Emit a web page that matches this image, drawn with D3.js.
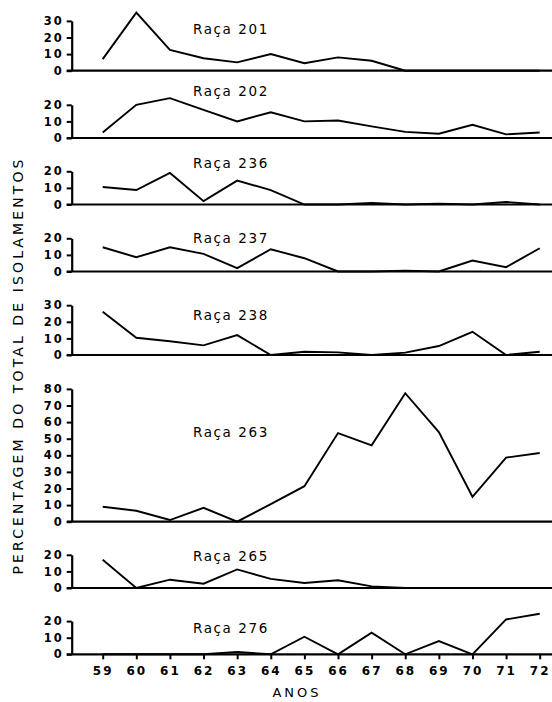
<!DOCTYPE html>
<html>
<head>
<meta charset="utf-8">
<script src="https://cdn.jsdelivr.net/npm/d3@7"></script>
<style>
  body { margin: 0; background: #fff; }
  svg text { font-family: "DejaVu Sans", sans-serif; fill: #000; }
</style>
</head>
<body>
<div id="chart"></div>
<script>
const years = [59, 60, 61, 62, 63, 64, 65, 66, 67, 68, 69, 70, 71, 72];

const raca201 = [7, 35, 12.5, 7.5, 5, 10, 4.5, 8, 6, 0, 0, 0, 0, 0];
const raca202 = [3.3, 20, 24, 17, 10, 15.5, 10, 10.5, 7, 3.7, 2.6, 8, 2.2, 3.3];
const raca236 = [10.5, 8.7, 19, 2, 14.4, 8.7, 0, 0, 1, 0, 0.5, 0, 1.5, 0];
const raca237 = [14.6, 8.6, 14.6, 10.6, 2, 13.4, 8, 0, 0, 0.5, 0, 6.6, 2.6, 14];
const raca238 = [26, 10.4, 8.3, 5.8, 12, 0, 2, 1.6, 0, 1.4, 5.4, 14, 0, 2];
const raca263 = [9, 6.6, 1, 8.4, 0, 10.6, 21.4, 53.4, 46, 77.4, 54, 15, 38.6, 41.4];
const raca265 = [17, 0, 5, 2.6, 11.2, 5.5, 3, 4.7, 1, 0, 0, 0, 0, 0];
const raca276 = [0, 0, 0, 0, 1.4, 0, 10.6, 0, 13, 0, 8, 0, 21, 24.4];

const racaNames = ["Raça 201", "Raça 202", "Raça 236", "Raça 237",
                   "Raça 238", "Raça 263", "Raça 265", "Raça 276"];
const racaSeries = [raca201, raca202, raca236, raca237,
                    raca238, raca263, raca265, raca276];
const axisMax = [30, 20, 20, 20, 30, 80, 20, 20];

// layout: y of each panel's zero line and label height (in data units)
const zeroY = [70.7, 138, 204.5, 271.5, 355, 521.7, 588, 654.3];
const labelAt = [25, 28.5, 25.3, 20, 24.2, 54, 19, 16];
const pxPerUnit = 1.66;

const width = 552;
const height = 702;

const svg = d3
  .select("#chart")
  .append("svg")
  .attr("width", width)
  .attr("height", height);

const x = d3.scaleLinear().domain([59, 72]).range([102.7, 539.7]);
const axisX = 71.7;

racaSeries.forEach((values, i) => {
  const y0 = zeroY[i];
  const max = axisMax[i];
  const y = d3
    .scaleLinear()
    .domain([0, max])
    .range([y0, y0 - max * pxPerUnit]);

  const g = svg.append("g");

  // zero line across the panel
  g.append("line")
    .attr("x1", axisX - 5)
    .attr("x2", width)
    .attr("y1", y(0))
    .attr("y2", y(0))
    .attr("stroke", "#000")
    .attr("stroke-width", 2.2);

  const yAxis = d3
    .axisLeft(y)
    .tickValues(d3.range(0, max + 1, 10))
    .tickSize(5)
    .tickSizeOuter(0)
    .tickPadding(3);

  const ax = g
    .append("g")
    .attr("transform", `translate(${axisX},0)`)
    .call(yAxis);
  ax.select(".domain").attr("stroke-width", 2.2);
  ax.selectAll(".tick line").attr("stroke-width", 2);
  ax.selectAll(".tick text")
    .style("font-family", "DejaVu Sans, sans-serif")
    .style("font-size", "11.5px")
    .style("font-weight", "bold")
    .style("letter-spacing", "2px");

  const line = d3
    .line()
    .x((d, j) => x(years[j]))
    .y((d) => y(d));

  g.append("path")
    .datum(values)
    .attr("fill", "none")
    .attr("stroke", "#000")
    .attr("stroke-width", 1.9)
    .attr("stroke-linejoin", "miter")
    .attr("d", line);

  g.append("text")
    .attr("x", 193)
    .attr("y", y(labelAt[i]) + 5)
    .style("font-size", "13.5px")
    .style("letter-spacing", "1.6px")
    .text(racaNames[i]);

  if (i === racaSeries.length - 1) {
    const xAxis = d3
      .axisBottom(x)
      .tickValues(years)
      .tickSize(5)
      .tickSizeOuter(0)
      .tickPadding(7)
      .tickFormat((d) => d);

    const bx = g
      .append("g")
      .attr("transform", `translate(0,${y(0)})`)
      .call(xAxis);
    bx.select(".domain").remove();
    bx.selectAll(".tick line").attr("stroke-width", 2);
    bx.selectAll(".tick text")
      .style("font-family", "DejaVu Sans, sans-serif")
      .style("font-size", "12px")
      .style("font-weight", "bold")
      .style("letter-spacing", "2px");
  }
});

svg
  .append("text")
  .attr("x", 297)
  .attr("y", 697)
  .attr("text-anchor", "middle")
  .style("font-size", "13px")
  .style("letter-spacing", "3px")
  .text("ANOS");

svg
  .append("text")
  .attr("transform", "translate(23,367) rotate(-90)")
  .attr("text-anchor", "middle")
  .attr("textLength", 415)
  .attr("lengthAdjust", "spacing")
  .style("font-size", "14px")
  .text("PERCENTAGEM DO TOTAL DE ISOLAMENTOS");
</script>
</body>
</html>
